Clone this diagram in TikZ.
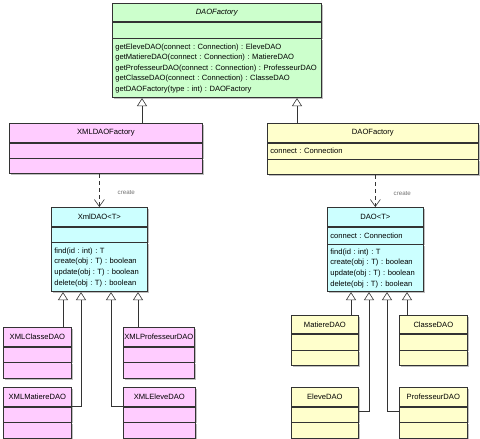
\documentclass[tikz,border=0pt]{standalone}
\usepackage{fontspec}
\setmainfont{Liberation Sans}
\usetikzlibrary{positioning,arrows.meta,shadows}
\definecolor{facgreen}{RGB}{204,255,204}
\definecolor{xmlpink}{RGB}{255,204,255}
\definecolor{daoyellow}{RGB}{255,255,204}
\definecolor{tcyan}{RGB}{204,255,255}
\tikzset{
  umlbox/.style={draw=black!80, line width=0.7pt, inner sep=0pt, font=\fontsize{7.6}{10.6}\selectfont\frenchspacing,
    general shadow={shadow xshift=1.2pt, shadow yshift=-1.2pt, fill=black!25}},
  umlhead/.style={umlbox, anchor=north west},
  umlpart/.style={umlbox, align=left, inner xsep=3pt},
  inherit/.style={draw=black!80, line width=0.6pt, -{Triangle[open, length=8pt, width=10pt]}},
  depend/.style={draw=black!80, line width=0.6pt, dash pattern=on 4pt off 3pt, -{Straight Barb[length=7pt, width=10pt]}},
  stereo/.style={font=\fontsize{6.2}{7}\selectfont, text=black!55, inner sep=0pt}
}
\begin{document}
\begin{tikzpicture}[x=1pt, y=-1pt]
            \useasboundingbox (0,0) rectangle (480,439);
            % abstract factory
            \node[umlhead, fill=facgreen, minimum width=209pt, minimum height=18pt] (fac) at (112,3) {\textit{DAOFactory}};
            \node[umlpart, fill=facgreen, minimum width=209pt, minimum height=16pt, below=0pt of fac] (facA) {};
            \node[umlpart, fill=facgreen, text width=203pt, minimum height=59pt, below=0pt of facA] (facM) {getEleveDAO(connect : Connection) : EleveDAO\\getMatiereDAO(connect : Connection) : MatiereDAO\\getProfesseurDAO(connect : Connection) : ProfesseurDAO\\getClasseDAO(connect : Connection) : ClasseDAO\\getDAOFactory(type : int) : DAOFactory};

            % concrete factories
            \node[umlhead, fill=xmlpink, minimum width=193pt, minimum height=19pt] (xmlfac) at (9,123) {XMLDAOFactory};
            \node[umlpart, fill=xmlpink, minimum width=193pt, minimum height=15pt, below=0pt of xmlfac] (xmlfacA) {};
            \node[umlpart, fill=xmlpink, minimum width=193pt, minimum height=15pt, below=0pt of xmlfacA] (xmlfacM) {};

            \node[umlhead, fill=daoyellow, minimum width=211pt, minimum height=19pt] (daofac) at (267,123) {DAOFactory};
            \node[umlpart, fill=daoyellow, text width=205pt, minimum height=16pt, below=0pt of daofac] (daofacA) {connect : Connection};
            \node[umlpart, fill=daoyellow, minimum width=211pt, minimum height=15pt, below=0pt of daofacA] (daofacM) {};

            % generic DAOs
            \node[umlhead, fill=tcyan, minimum width=96pt, minimum height=19pt] (xmldao) at (51,207) {XmlDAO<T>};
            \node[umlpart, fill=tcyan, minimum width=96pt, minimum height=15pt, below=0pt of xmldao] (xmldaoA) {};
            \node[umlpart, fill=tcyan, text width=90pt, minimum height=49pt, below=0pt of xmldaoA] (xmldaoM) {find(id : int) : T\\create(obj : T) : boolean\\update(obj : T) : boolean\\delete(obj : T) : boolean};

            \node[umlhead, fill=tcyan, minimum width=96pt, minimum height=19pt] (dao) at (327,207) {DAO<T>};
            \node[umlpart, fill=tcyan, text width=90pt, minimum height=17pt, below=0pt of dao] (daoA) {connect : Connection};
            \node[umlpart, fill=tcyan, text width=90pt, minimum height=47pt, below=0pt of daoA] (daoM) {find(id : int) : T\\create(obj : T) : boolean\\update(obj : T) : boolean\\delete(obj : T) : boolean};

            % XML classes
            \node[umlhead, fill=xmlpink, minimum width=68pt, minimum height=19pt] (xmlcl) at (3,327) {XMLClasseDAO};
            \node[umlpart, fill=xmlpink, minimum width=68pt, minimum height=15pt, below=0pt of xmlcl] (xmlclA) {};
            \node[umlpart, fill=xmlpink, minimum width=68pt, minimum height=16pt, below=0pt of xmlclA] (xmlclM) {};
            \node[umlhead, fill=xmlpink, minimum width=71pt, minimum height=19pt] (xmlprof) at (123,327) {XMLProfesseurDAO};
            \node[umlpart, fill=xmlpink, minimum width=71pt, minimum height=15pt, below=0pt of xmlprof] (xmlprofA) {};
            \node[umlpart, fill=xmlpink, minimum width=71pt, minimum height=16pt, below=0pt of xmlprofA] (xmlprofM) {};
            \node[umlhead, fill=xmlpink, minimum width=68pt, minimum height=19pt] (xmlmat) at (3,387) {XMLMatiereDAO};
            \node[umlpart, fill=xmlpink, minimum width=68pt, minimum height=15pt, below=0pt of xmlmat] (xmlmatA) {};
            \node[umlpart, fill=xmlpink, minimum width=68pt, minimum height=16pt, below=0pt of xmlmatA] (xmlmatM) {};
            \node[umlhead, fill=xmlpink, minimum width=72pt, minimum height=19pt] (xmleleve) at (123,387) {XMLEleveDAO};
            \node[umlpart, fill=xmlpink, minimum width=72pt, minimum height=15pt, below=0pt of xmleleve] (xmleleveA) {};
            \node[umlpart, fill=xmlpink, minimum width=72pt, minimum height=16pt, below=0pt of xmleleveA] (xmleleveM) {};

            % DAO classes
            \node[umlhead, fill=daoyellow, minimum width=67pt, minimum height=18pt] (matiere) at (291,315) {MatiereDAO};
            \node[umlpart, fill=daoyellow, minimum width=67pt, minimum height=16pt, below=0pt of matiere] (matiereA) {};
            \node[umlpart, fill=daoyellow, minimum width=67pt, minimum height=15pt, below=0pt of matiereA] (matiereM) {};
            \node[umlhead, fill=daoyellow, minimum width=68pt, minimum height=18pt] (classe) at (399,315) {ClasseDAO};
            \node[umlpart, fill=daoyellow, minimum width=68pt, minimum height=16pt, below=0pt of classe] (classeA) {};
            \node[umlpart, fill=daoyellow, minimum width=68pt, minimum height=15pt, below=0pt of classeA] (classeM) {};
            \node[umlhead, fill=daoyellow, minimum width=67pt, minimum height=19pt] (eleve) at (291,387) {EleveDAO};
            \node[umlpart, fill=daoyellow, minimum width=67pt, minimum height=15pt, below=0pt of eleve] (eleveA) {};
            \node[umlpart, fill=daoyellow, minimum width=67pt, minimum height=16pt, below=0pt of eleveA] (eleveM) {};
            \node[umlhead, fill=daoyellow, minimum width=68pt, minimum height=19pt] (prof) at (399,387) {ProfesseurDAO};
            \node[umlpart, fill=daoyellow, minimum width=68pt, minimum height=15pt, below=0pt of prof] (profA) {};
            \node[umlpart, fill=daoyellow, minimum width=68pt, minimum height=16pt, below=0pt of profA] (profM) {};

            % inheritance
            \coordinate (g1) at ([xshift=30pt]facM.south west);
            \coordinate (g2) at ([xshift=185pt]facM.south west);
            \draw[inherit] (g1 |- xmlfac.north) -- (g1);
            \draw[inherit] (g2 |- daofac.north) -- (g2);

            \coordinate (g3) at ([xshift=12pt]xmldaoM.south west);
            \coordinate (g4) at ([xshift=30pt]xmldaoM.south west);
            \coordinate (g5) at ([xshift=60pt]xmldaoM.south west);
            \coordinate (g6) at ([xshift=87pt]xmldaoM.south west);
            \draw[inherit] (g3 |- xmlcl.north) -- (g3);
            \draw[inherit] (xmlmat.south east) -| (g4);
            \draw[inherit] (xmleleve.south west) -| (g5);
            \draw[inherit] (g6 |- xmlprof.north) -- (g6);

            \coordinate (g7) at ([xshift=24pt]daoM.south west);
            \coordinate (g8) at ([xshift=42pt]daoM.south west);
            \coordinate (g9) at ([xshift=60pt]daoM.south west);
            \coordinate (g10) at ([xshift=80pt]daoM.south west);
            \draw[inherit] (g7 |- matiere.north) -- (g7);
            \draw[inherit] ([yshift=-5pt]eleve.south east) -| (g8);
            \draw[inherit] ([yshift=-5pt]prof.south west) -| (g9);
            \draw[inherit] (g10 |- classe.north) -- (g10);

            % creation
            \draw[depend] (xmldao.north |- xmlfacM.south) -- node[stereo, right=18pt, yshift=-1.5pt] (create1) {create} (xmldao.north);
            \draw[depend] (dao.north |- daofacM.south) -- node[stereo, right=18pt, yshift=-2pt] (create2) {create} (dao.north);
        \end{tikzpicture}
\end{document}
